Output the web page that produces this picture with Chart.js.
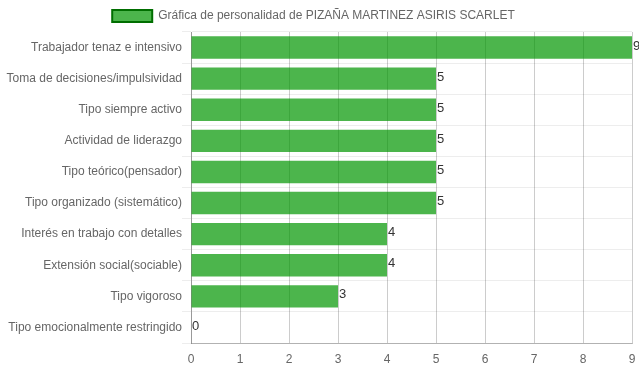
<!DOCTYPE html>
<html>
<head>
<meta charset="utf-8">
<script src="https://cdn.jsdelivr.net/npm/chart.js"></script>
<style>
  html, body { margin: 0; padding: 0; background: #fff; }
  #wrap { width: 639px; height: 372px; }
</style>
</head>
<body>
<div id="wrap"><canvas id="personalidad" width="639" height="372"></canvas></div>
<script>
const categorias = [
  'Trabajador tenaz e intensivo',
  'Toma de decisiones/impulsividad',
  'Tipo siempre activo',
  'Actividad de liderazgo',
  'Tipo teórico(pensador)',
  'Tipo organizado (sistemático)',
  'Interés en trabajo con detalles',
  'Extensión social(sociable)',
  'Tipo vigoroso',
  'Tipo emocionalmente restringido'
];
const puntajes = [9, 5, 5, 5, 5, 5, 4, 4, 3, 0];
const etiquetaSerie = 'Gráfica de personalidad de PIZAÑA MARTINEZ ASIRIS SCARLET';

Chart.defaults.font.family = '"Liberation Sans", Arial, sans-serif';
Chart.defaults.font.size = 12;
Chart.defaults.color = '#666';

// writes the score right after each bar
const valoresPlugin = {
  id: 'valores',
  afterLayout(chart) {
    // legend sits a little left of centre in the original
    chart.legend.left -= 6;
    chart.legend.right -= 6;
  },
  afterDatasetsDraw(chart) {
    const ctx = chart.ctx;
    ctx.save();
    ctx.font = '13px "Liberation Sans", Arial, sans-serif';
    ctx.fillStyle = '#333';
    ctx.textAlign = 'left';
    ctx.textBaseline = 'bottom';
    chart.getDatasetMeta(0).data.forEach((bar, i) => {
      ctx.fillText(puntajes[i], bar.x + 1, bar.y + 5);
    });
    ctx.restore();
  }
};

new Chart(document.getElementById('personalidad').getContext('2d'), {
  type: 'bar',
  data: {
    labels: categorias,
    datasets: [{
      label: etiquetaSerie,
      data: puntajes,
      backgroundColor: 'rgba(0,150,0,0.7)',
      borderWidth: 0,
      barPercentage: 0.9,
      categoryPercentage: 0.8
    }]
  },
  options: {
    indexAxis: 'y',
    responsive: false,
    animation: false,
    layout: { padding: 0 },
    plugins: {
      legend: {
        labels: {
          boxWidth: 40,
          boxHeight: 12,
          padding: 10,
          generateLabels(chart) {
            return [{
              text: etiquetaSerie,
              fillStyle: 'rgba(0,150,0,0.7)',
              strokeStyle: 'rgb(0,110,0)',
              lineWidth: 2,
              datasetIndex: 0,
              fontColor: '#666'
            }];
          }
        }
      },
      tooltip: { enabled: false }
    },
    scales: {
      x: {
        min: 0,
        max: 9,
        ticks: { stepSize: 1, padding: 9 },
        grid: { color: 'rgba(0,0,0,0.2)', drawTicks: false },
        border: { color: 'rgba(0,0,0,0.25)' },
        afterFit(scale) {
          scale.height = 29;
          scale.paddingLeft = 0;
          scale.paddingRight = 7;
        }
      },
      y: {
        ticks: { padding: 0 },
        grid: { color: 'rgba(0,0,0,0.07)', tickLength: 9 },
        border: { color: 'rgba(0,0,0,0.25)' },
        afterFit(scale) { scale.width = 191; }
      }
    }
  },
  plugins: [valoresPlugin]
});
</script>
</body>
</html>
